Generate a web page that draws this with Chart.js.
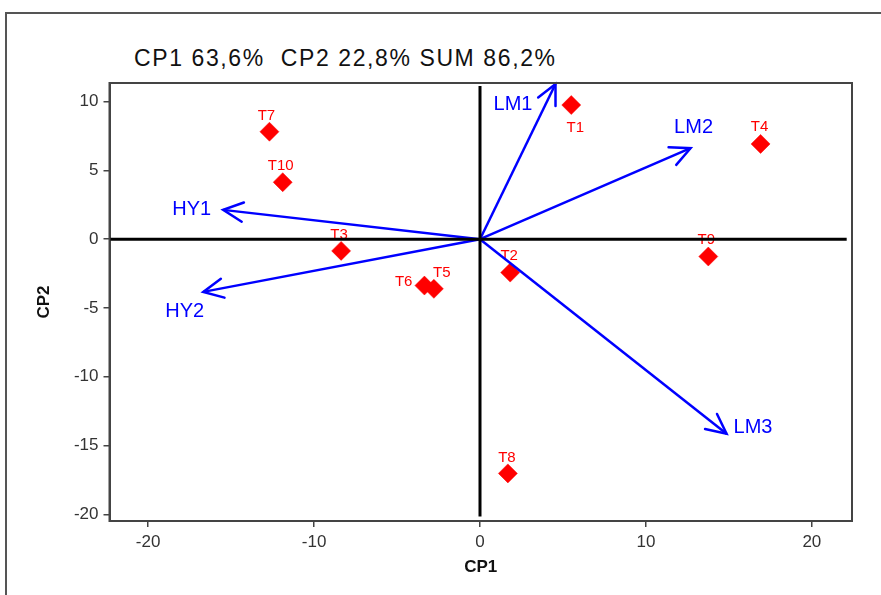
<!DOCTYPE html>
<html>
<head>
<meta charset="utf-8">
<script src="https://cdn.jsdelivr.net/npm/chart.js@4.4.1/dist/chart.umd.min.js"></script>
<style>
  html, body { margin: 0; padding: 0; background: #fff; }
  #wrap { position: relative; width: 881px; height: 595px; overflow: hidden; }
  #frame { position: absolute; left: 5px; top: 12px; width: 1000px; height: 1000px;
           border-left: 2px solid #555; border-top: 2px solid #555; }
  #title { position: absolute; left: 134px; top: 45px; font: 23px "Liberation Sans", Arial, sans-serif;
           letter-spacing: 1.6px; color: #111; white-space: pre; line-height: normal; }
  canvas { position: absolute; left: 0; top: 0; }
</style>
</head>
<body>
<div id="wrap">
  <div id="frame"></div>
  <div id="title">CP1 63,6%  CP2 22,8% SUM 86,2%</div>
  <canvas id="biplot" width="881" height="595"></canvas>
</div>
<script>
// treatments (scores)
const pointNames = ['T1', 'T2', 'T3', 'T4', 'T5', 'T6', 'T7', 'T8', 'T9', 'T10'];
const cp1 = [5.50, 1.82, -8.37, 16.91, -2.78, -3.35, -12.69, 1.68, 13.76, -11.89];
const cp2 = [9.75, -2.43, -0.85, 6.92, -3.61, -3.37, 7.81, -17.02, -1.26, 4.14];

// variables (loadings, drawn as arrows from the origin)
const varNames = ['HY1', 'HY2', 'LM1', 'LM2', 'LM3'];
const varX = [-15.48, -16.68, 4.55, 12.69, 14.86];
const varY = [2.13, -3.83, 11.28, 6.61, -14.14];

// axis ranges
const xRange = [-22.33, 22.42];
const yRange = [-20.48, 11.35];
const xStep = 10;
const yStep = 5;

// label placement (pixels, relative to the mark)
const pointLabelPos = [
  { dx: 4, dy: 23, align: 'center' },   // T1
  { dx: -1, dy: -17, align: 'center' },  // T2
  { dx: -2, dy: -16, align: 'center' },  // T3
  { dx: -1, dy: -17, align: 'center' },  // T4
  { dx: 8, dy: -16, align: 'center' },   // T5
  { dx: -12, dy: -4, align: 'right' },   // T6
  { dx: -3, dy: -16, align: 'center' },  // T7
  { dx: -1, dy: -16, align: 'center' },  // T8
  { dx: -2, dy: -17, align: 'center' },  // T9
  { dx: -2, dy: -16, align: 'center' }   // T10
];
const varLabelPos = [
  { dx: -12, dy: 0, align: 'right' },   // HY1
  { dx: 1, dy: 20, align: 'right' },    // HY2
  { dx: -23, dy: 21, align: 'right' },  // LM1
  { dx: 3, dy: -21, align: 'center' },  // LM2
  { dx: 7, dy: -6, align: 'left' }      // LM3
];

const FONT = '"Liberation Sans", Arial, sans-serif';

var datasets = [];

// zero lines on top
datasets.push({
  type: 'line', data: [{ x: xRange[0], y: 0 }, { x: 22.1, y: 0 }],
  borderColor: '#000', borderWidth: 3, pointRadius: 0, order: 0, clip: false
});
datasets.push({
  type: 'line', data: [{ x: 0, y: 11.13 }, { x: 0, y: -20.15 }],
  borderColor: '#000', borderWidth: 3, pointRadius: 0, order: 0, clip: false
});

// arrows
for (let i = 0; i < varNames.length; i++) {
  datasets.push({
    type: 'line', kind: 'arrow', varIndex: i,
    data: [{ x: 0, y: 0 }, { x: varX[i], y: varY[i] }],
    borderColor: '#0000ff', borderWidth: 2.5, pointRadius: 0, order: 1, clip: false
  });
}

// treatment points
datasets.push({
  type: 'scatter', kind: 'points',
  data: cp1.map((v, i) => ({ x: v, y: cp2[i] })),
  pointStyle: 'rectRot', pointRadius: 9.5, backgroundColor: '#ff0000',
  borderColor: '#ff0000', borderWidth: 0.5, order: 2
});

const biplotMarks = {
  id: 'biplotMarks',
  afterDatasetDraw(chart, args) {
    const ds = chart.data.datasets[args.index];
    const ctx = chart.ctx;
    const pts = args.meta.data;
    if (ds.kind === 'arrow') {
      const a = pts[0], b = pts[1];
      const ang = Math.atan2(a.y - b.y, a.x - b.x);
      const len = 22, spread = 26 * Math.PI / 180;
      ctx.save();
      ctx.strokeStyle = '#0000ff';
      ctx.lineWidth = 2.5;
      ctx.lineCap = 'round';
      ctx.beginPath();
      ctx.moveTo(b.x + len * Math.cos(ang + spread), b.y + len * Math.sin(ang + spread));
      ctx.lineTo(b.x, b.y);
      ctx.lineTo(b.x + len * Math.cos(ang - spread), b.y + len * Math.sin(ang - spread));
      ctx.stroke();
      const p = varLabelPos[ds.varIndex];
      ctx.fillStyle = '#0000ff';
      ctx.font = '20px ' + FONT;
      ctx.textAlign = p.align;
      ctx.textBaseline = 'middle';
      ctx.fillText(varNames[ds.varIndex], b.x + p.dx, b.y + p.dy);
      ctx.restore();
    }
    if (ds.kind === 'points') {
      ctx.save();
      ctx.fillStyle = '#ff0000';
      ctx.font = '15px ' + FONT;
      ctx.textBaseline = 'middle';
      pts.forEach((pt, i) => {
        const p = pointLabelPos[i];
        ctx.textAlign = p.align;
        ctx.fillText(pointNames[i], pt.x + p.dx, pt.y + p.dy);
      });
      ctx.restore();
    }
  },
  afterDraw(chart) {
    const { left, top, right, bottom } = chart.chartArea;
    const ctx = chart.ctx;
    ctx.save();
    ctx.strokeStyle = '#444';
    ctx.lineWidth = 2;
    ctx.strokeRect(left, top, right - left, bottom - top);
    ctx.restore();
  }
};

const chart = new Chart(document.getElementById('biplot'), {
  type: 'scatter',
  data: { datasets: datasets },
  options: {
    responsive: false,
    animation: false,
    devicePixelRatio: 1,
    layout: { padding: { left: 32, right: 29, top: 83, bottom: 14 } },
    plugins: { legend: { display: false }, tooltip: { enabled: false } },
    scales: {
      x: {
        type: 'linear', min: xRange[0], max: xRange[1],
        afterFit: s => { s.height = 60; },
        ticks: { stepSize: xStep, includeBounds: false, color: '#333', padding: 5, maxRotation: 0,
                 font: { size: 17, family: FONT } },
        grid: { drawOnChartArea: false, tickLength: 6, color: '#444', lineWidth: 1.5 },
        border: { color: '#444', width: 2 },
        title: { display: true, text: 'CP1', color: '#111', padding: { top: 0, bottom: 3 },
                 font: { size: 17, weight: 'bold', family: FONT } }
      },
      y: {
        type: 'linear', min: yRange[0], max: yRange[1],
        afterFit: s => { s.width = 77.5; },
        ticks: { stepSize: yStep, includeBounds: false, color: '#333', padding: 5,
                 font: { size: 17, family: FONT } },
        grid: { drawOnChartArea: false, tickLength: 6, color: '#444', lineWidth: 1.5 },
        border: { color: '#444', width: 2 },
        title: { display: true, text: 'CP2', color: '#111', padding: { top: 2, bottom: 0 },
                 font: { size: 17, weight: 'bold', family: FONT } }
      }
    }
  },
  plugins: [biplotMarks]
});
</script>
</body>
</html>
